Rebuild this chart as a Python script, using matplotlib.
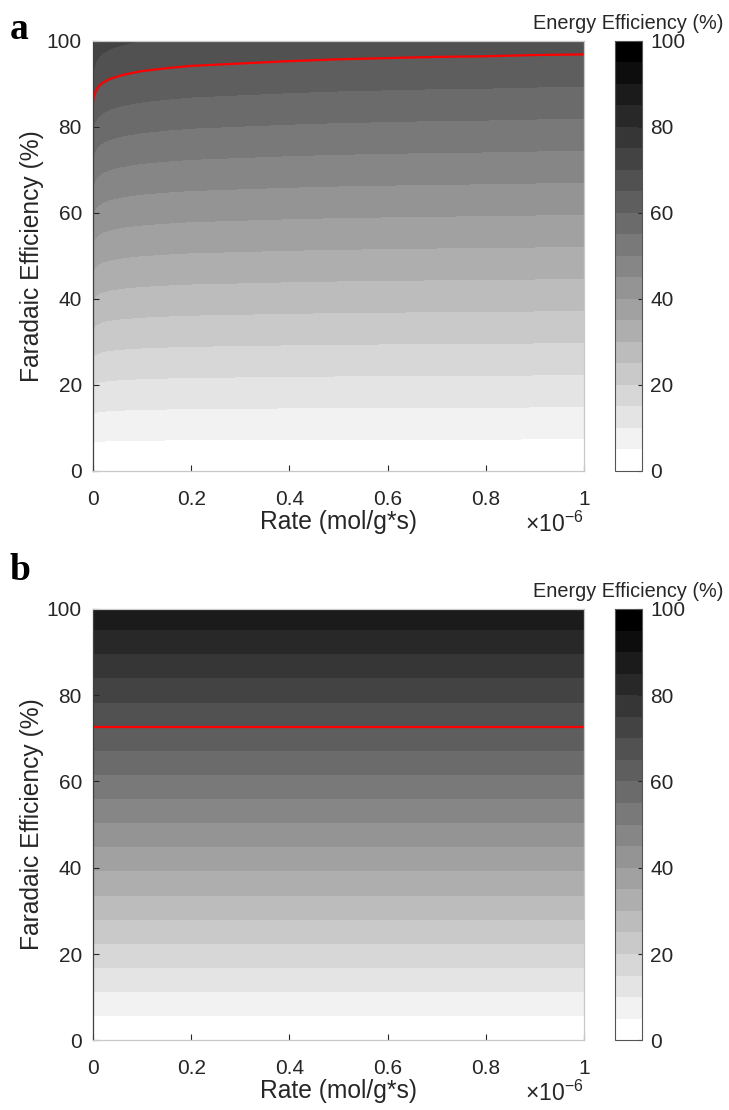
import numpy as np
import matplotlib
matplotlib.use("Agg")
import matplotlib.pyplot as plt
from matplotlib.colors import ListedColormap, BoundaryNorm
from matplotlib.ticker import ScalarFormatter

plt.rcParams['font.family'] = ['Liberation Sans', 'DejaVu Sans']
plt.rcParams['mathtext.fontset'] = 'custom'
plt.rcParams['mathtext.rm'] = 'Liberation Sans'
plt.rcParams['axes.unicode_minus'] = False

TEXT = '#262626'

# ---- data -------------------------------------------------------------
# Panel a: ratio of energy efficiency to faradaic efficiency vs. production rate
rate_a = np.array([0, 0.001, 0.002, 0.004, 0.007, 0.012, 0.02, 0.035, 0.06,
                   0.1, 0.15, 0.2, 0.3, 0.4, 0.5, 0.6, 0.7, 0.8, 0.9, 1.0]) * 1e-6
ee_per_fe_a = np.array([0.757, 0.752, 0.748, 0.741, 0.734, 0.727, 0.720, 0.713,
                        0.706, 0.699, 0.694, 0.690, 0.686, 0.682, 0.679, 0.677,
                        0.675, 0.674, 0.672, 0.671])

# Panel b: rate-independent ratio
rate_b = np.array([0.0, 1.0]) * 1e-6
ee_per_fe_b = np.array([0.894, 0.894])

# Faradaic efficiency axis (%)
fe_axis = np.linspace(0, 100, 201)

# Energy-efficiency contour levels (%) and highlighted target
ee_levels = np.arange(0, 105, 5)
ee_target = 65

x_ticks = np.array([0, 0.2, 0.4, 0.6, 0.8, 1.0]) * 1e-6
y_ticks = [0, 20, 40, 60, 80, 100]
cbar_ticks = [0, 20, 40, 60, 80, 100]


class ShortScalarFormatter(ScalarFormatter):
    """Scalar formatter with an offset exponent but compact tick labels."""
    def _set_format(self):
        self.format = '%g'


# ---- style ------------------------------------------------------------
n_bands = len(ee_levels) - 1
gray_steps = np.linspace(1.0, 0.0, n_bands)
cmap = ListedColormap(np.column_stack([gray_steps, gray_steps, gray_steps]))
norm = BoundaryNorm(ee_levels, cmap.N)

fig = plt.figure(figsize=(7.29, 11.10), dpi=100)

panels = [
    ('a', rate_a, ee_per_fe_a, [0.1276, 0.5757, 0.6735, 0.3874],
     [0.8436, 0.5757, 0.0370, 0.3874], 0.965),
    ('b', rate_b, ee_per_fe_b, [0.1276, 0.0628, 0.6735, 0.3886],
     [0.8436, 0.0628, 0.0370, 0.3886], 0.4775),
]

for letter, rates, ratio, ax_rect, cax_rect, letter_y in panels:
    ax = fig.add_axes(ax_rect)
    cax = fig.add_axes(cax_rect)

    R, F = np.meshgrid(rates, fe_axis)
    EE = F * ratio[np.newaxis, :]

    cf = ax.contourf(R, F, EE, levels=ee_levels, cmap=cmap, norm=norm)
    ax.contour(R, F, EE, levels=[ee_target], colors='red', linewidths=1.6)

    ax.set_xlim(0, 1e-6)
    ax.set_ylim(0, 100)
    ax.set_xticks(x_ticks)
    ax.set_yticks(y_ticks)

    fmt = ShortScalarFormatter(useMathText=True)
    fmt.set_powerlimits((-3, 3))
    ax.xaxis.set_major_formatter(fmt)
    ax.xaxis.OFFSETTEXTPAD = 2
    off = ax.xaxis.get_offset_text()
    off.set_fontsize(16.5)
    off.set_color(TEXT)
    off.set_x(1.0)
    off.set_horizontalalignment('right')

    ax.tick_params(direction='in', length=4, width=0.8, colors=TEXT,
                   labelsize=15, labelcolor=TEXT)
    ax.tick_params(axis='x', pad=13.5)
    ax.tick_params(axis='y', pad=8)
    for side, sp in ax.spines.items():
        sp.set_linewidth(0.9)
        sp.set_color('#c8c8c8')
    ax.spines['left'].set_color('#404040')

    ax.set_xlabel('Rate (mol/g*s)', fontsize=17.7, color=TEXT, labelpad=1)
    ax.set_ylabel('Faradaic Efficiency (%)', fontsize=17.7, color=TEXT, labelpad=2)

    cb = fig.colorbar(cf, cax=cax, ticks=cbar_ticks)
    cb.minorticks_off()
    cb.outline.set_linewidth(0.8)
    cb.outline.set_edgecolor('#555555')
    cax.tick_params(direction='in', length=3, width=0.8, colors=TEXT,
                    labelsize=15, labelcolor=TEXT, pad=6)
    cax.text(0.5, 1.018, 'Energy Efficiency (%)', transform=cax.transAxes,
             ha='center', va='bottom', fontsize=14.3, color=TEXT)

    fig.text(0.013, letter_y, letter, fontsize=27, fontweight='bold',
             family='Liberation Serif', va='baseline', ha='left', color='black')

fig.savefig('out.png', dpi=100)
